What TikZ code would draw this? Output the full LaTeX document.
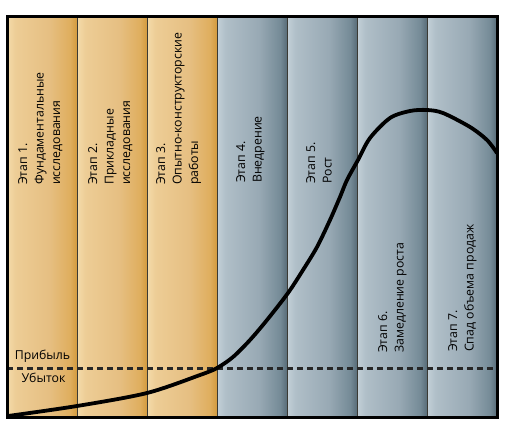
\documentclass[tikz,border=0pt]{standalone}
\usepackage{fontspec}
\setmainfont{Open Sans}
\definecolor{tanA}{HTML}{F4DBAA}
\definecolor{tanB}{HTML}{EDCD96}
\definecolor{tanC}{HTML}{E6BF82}
\definecolor{tanD}{HTML}{DFAE5E}
\definecolor{tanE}{HTML}{D29A3E}
\definecolor{bluA}{HTML}{C3D0D8}
\definecolor{bluB}{HTML}{B0BFC8}
\definecolor{bluC}{HTML}{98A9B4}
\definecolor{bluD}{HTML}{758B97}
\definecolor{bluE}{HTML}{586C78}
\definecolor{divcol}{HTML}{3A3A34}
\pgfdeclarehorizontalshading{tanshade}{100bp}{color(0bp)=(tanA); color(25bp)=(tanA); color(31bp)=(tanB); color(55bp)=(tanC); color(70bp)=(tanD); color(75bp)=(tanE); color(100bp)=(tanE)}
\pgfdeclarehorizontalshading{blushade}{100bp}{color(0bp)=(bluA); color(25bp)=(bluA); color(31bp)=(bluB); color(55bp)=(bluC); color(70bp)=(bluD); color(75bp)=(bluE); color(100bp)=(bluE)}
\begin{document}
\begin{tikzpicture}[x=1pt,y=1pt,
  lab/.style={rotate=90, anchor=north west, inner sep=0pt, align=left,
    font=\fontsize{12.3}{16.5}\selectfont, text=black},
  sidelab/.style={inner sep=0pt, font=\fontsize{12.3}{14}\selectfont, text=black},
  divider/.style={draw=divcol, line width=1pt},
  frame/.style={draw=black, line width=3pt},
  zeroline/.style={draw=black!85, line width=3pt, dash pattern=on 6pt off 4pt},
  curve/.style={draw=black, line width=3.8pt, line cap=round}]
\useasboundingbox (0,0) rectangle (513,432);
\fill[white] (0,0) rectangle (513,432);
\foreach \x in {7,77,147}
  \shade[shading=tanshade] (\x,15) rectangle ++(70,400);
\foreach \x in {217,287,357,427}
  \shade[shading=blushade] (\x,15) rectangle ++(70,400);
\foreach \x in {77,147,217,287,357,427}
  \draw[divider] (\x,15) -- (\x,415);
% stage labels
\node[lab] (s1) at (18,247) {Этап 1.\\Фундаментальные\\исследования};
\node[lab] (s2) at (88,247) {Этап 2.\\Прикладные\\исследования};
\node[lab] (s3) at (156,247) {Этап 3.\\Опытно-конструкторские\\работы};
\node[lab] (s4) at (236,249) {Этап 4.\\Внедрение};
\node[lab] (s5) at (306,248) {Этап 5.\\Рост};
\node[lab] (s6) at (378,79) {Этап 6.\\Замедление роста};
\node[lab] (s7) at (448,80) {Этап 7.\\Спад объема продаж};
% zero line
\coordinate (zl) at (7,64);
\coordinate (zr) at (497,64);
\draw[zeroline] (zl) -- (zr);
\node[sidelab] (profit) at (42.5,76) {Прибыль};
\node[sidelab] (loss) at (43.5,54) {Убыток};
% curve
\draw[curve] plot[smooth, tension=0.5] coordinates {
  (8,16) (77,26) (147,39) (200,57) (217,64) (233,75) (250,92) (267,112)
  (288,139) (303,162) (317,185) (330,212) (340,235) (347,252) (358,272)
  (370,294) (390,314) (410,321) (427,322) (443,319) (470,305) (487,292) (497,279)};
% frame
\draw[frame] (7,15) rectangle (497,415);
\end{tikzpicture}
\end{document}
